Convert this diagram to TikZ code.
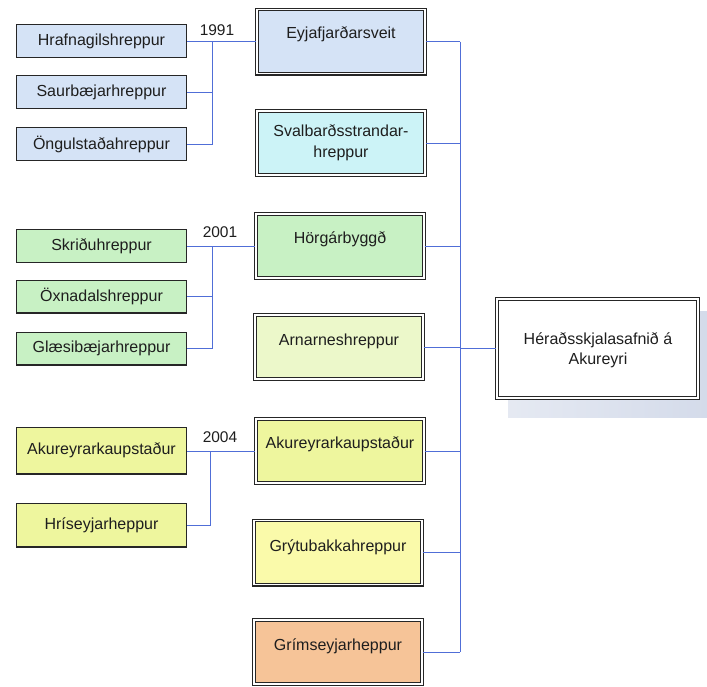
\documentclass[tikz,border=0pt]{standalone}
\usepackage{fontspec}
\setmainfont{Liberation Sans}
\definecolor{linkblue}{RGB}{80,110,215}
\definecolor{cblue}{RGB}{213,227,246}
\definecolor{ccyan}{RGB}{204,243,247}
\definecolor{cgreen}{RGB}{200,241,196}
\definecolor{clime}{RGB}{236,248,202}
\definecolor{cyg}{RGB}{238,246,158}
\definecolor{cyel}{RGB}{250,250,170}
\definecolor{corange}{RGB}{246,196,152}
\definecolor{cshadow}{RGB}{212,219,234}
\definecolor{ctext}{RGB}{30,30,30}
\begin{document}
\begin{tikzpicture}[x=1pt,y=-1pt,
  lbox/.style={draw=black!85, line width=1.3pt, minimum width=169.7pt, minimum height=32.7pt,
    inner sep=0pt, font=\fontsize{16}{18}\selectfont, text=ctext},
  rbox/.style={draw=black!85, line width=1.2pt, double=white, double distance=1.4pt,
    minimum width=168.2pt, minimum height=64.2pt, inner sep=0pt},
  tx/.style={font=\fontsize{16}{18}\selectfont, text=ctext, inner sep=0pt, align=center},
  yr/.style={font=\fontsize{15.5}{18}\selectfont, text=ctext, inner sep=0pt},
  link/.style={draw=linkblue, line width=0.9pt}]
\useasboundingbox (0,0) rectangle (707,686);
\fill[white] (0,0) rectangle (707,686);

% shadow of the archive box
\shade[left color=cshadow!60, right color=cshadow] (508,311) rectangle (707,417);

% left boxes
\node[lbox, fill=cblue] (hraf) at (101.5,41) {Hrafnagilshreppur};
\node[lbox, fill=cblue] (saur) at (101.5,92) {Saurbæjarhreppur};
\node[lbox, fill=cblue] (ongu) at (101.5,144) {Öngulstaðahreppur};
\node[lbox, fill=cgreen] (skri) at (101.5,246) {Skriðuhreppur};
\node[lbox, fill=cgreen] (oxna) at (101.5,296.5) {Öxnadalshreppur};
\node[lbox, fill=cgreen] (glae) at (101.5,348.5) {Glæsibæjarhreppur};
\node[lbox, fill=cyg, minimum height=46.7pt] (akul) at (101.5,450.5) {Akureyrarkaupstaður};
\node[lbox, fill=cyg, minimum height=43.7pt] (hris) at (101.5,525) {Hríseyjarheppur};

% right boxes
\node[rbox, fill=cblue] (eyja) at (341,41.5) {};
\node[rbox, fill=ccyan] (sval) at (341,143) {};
\node[rbox, fill=cgreen] (horg) at (340,246) {};
\node[rbox, fill=clime] (arna) at (339,347) {};
\node[rbox, fill=cyg] (akur) at (340,451) {};
\node[rbox, fill=cyel] (gryt) at (338,552.5) {};
\node[rbox, fill=corange] (grim) at (338,652) {};

\node[tx] (teyja) at ([yshift=-25pt]eyja.north) {Eyjafjarðarsveit};
\node[tx] (tsval) at (sval.center) {Svalbarðsstrandar-\\[3pt]hreppur};
\node[tx] (thorg) at ([yshift=-26pt]horg.north) {Hörgárbyggð};
\node[tx] (tarna) at ([yshift=-27pt]arna.north) {Arnarneshreppur};
\node[tx] (takur) at ([yshift=-26pt]akur.north) {Akureyrarkaupstaður};
\node[tx] (tgryt) at ([yshift=-27pt]gryt.north) {Grýtubakkahreppur};
\node[tx] (tgrim) at ([yshift=-27pt]grim.north) {Grímseyjarheppur};

% archive box
\node[rbox, fill=white, minimum width=201.2pt, minimum height=99.2pt] (hera) at (597.5,348.5) {};
\node[tx] (thera) at (598,350) {Héraðsskjalasafnið á\\[2pt]Akureyri};

% year labels
\node[yr] (y1991) at (217,30) {1991};
\node[yr] (y2001) at (220,232) {2001};
\node[yr] (y2004) at (220,437) {2004};

% merge junctions
\coordinate (j1) at (212,41);
\coordinate (j2) at (212,246);
\coordinate (j3) at (210,451);

\draw[link] (hraf.east) -- (hraf.east -| eyja.west);
\draw[link] (saur.east) -- (saur.east -| j1);
\draw[link] (ongu.east) -| (j1);

\draw[link] (skri.east) -- (skri.east -| horg.west);
\draw[link] (oxna.east) -- (oxna.east -| j2);
\draw[link] (glae.east) -| (j2);

\draw[link] (akul.east |- akur.west) -- (akur.west);
\draw[link] (hris.east) -| (j3);

% right bus
\coordinate (busT) at (460,41.5);
\coordinate (busB) at (460,652);
\draw[link] (busT) -- (busB);
\draw[link] (eyja.east) -- (busT);
\draw[link] (sval.east) -- (sval.east -| busT);
\draw[link] (horg.east) -- (horg.east -| busT);
\draw[link] (arna.east) -- (arna.east -| busT);
\draw[link] (akur.east) -- (akur.east -| busT);
\draw[link] (gryt.east) -- (gryt.east -| busT);
\draw[link] (grim.east) -- (busB);
\draw[link] (hera.west -| busT) -- (hera.west);
\end{tikzpicture}
\end{document}
